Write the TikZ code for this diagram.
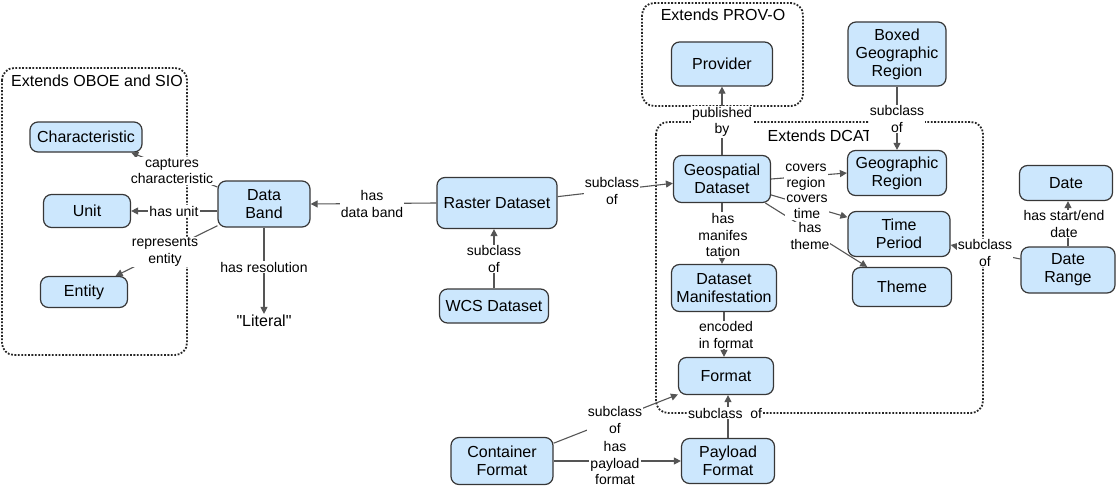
\documentclass[tikz,border=0pt]{standalone}
\usepackage{fontspec}
\setmainfont{Liberation Sans}
\newfontfamily\litfont{Liberation Sans}[Ligatures=TeXOff]
\usetikzlibrary{arrows.meta}
\definecolor{boxfill}{RGB}{204,231,253}
\definecolor{boxdraw}{RGB}{55,55,55}
\definecolor{edgecol}{RGB}{85,85,85}
\begin{document}
\begin{tikzpicture}[x=1pt,y=-1pt,
 cls/.style={draw=boxdraw, fill=boxfill, line width=1.2pt, rounded corners=8pt, align=center, font=\fontsize{16}{18}\selectfont, inner sep=0pt},
 lbl/.style={fill=white, inner sep=1pt, align=center, font=\fontsize{14}{16.5}\selectfont},
 rel/.style={draw=edgecol, line width=1.1pt, -{Triangle[length=7pt,width=7pt]}},
 frame/.style={draw=black!85, line width=1.8pt, dash pattern=on 1.8pt off 1.6pt, rounded corners=12pt},
 title/.style={font=\fontsize{16}{18}\selectfont, inner sep=1pt}]
\useasboundingbox (0,0) rectangle (1116,487);

% frames
\draw[frame] (2,68) rectangle (187,355);
\draw[frame] (642,3) rectangle (803,106);
\draw[frame] (656,122) rectangle (983,413);
\node[title] (t1) at (97,81) {Extends OBOE and SIO};
\node[title] (t2) at (723,15) {Extends PROV-O};
\node[title] (t3) at (820,136) {Extends DCAT};

% classes
\node[cls, minimum width=112pt, minimum height=30pt] (ch) at (86,137) {Characteristic};
\node[cls, minimum width=87pt, minimum height=33pt] (un) at (87,211) {Unit};
\node[cls, minimum width=87pt, minimum height=31pt] (en) at (84,292) {Entity};
\node[cls, minimum width=92pt, minimum height=46pt] (db) at (264,204) {Data\\Band};
\node[font=\litfont\fontsize{16}{18}\selectfont, inner sep=1pt] (lit) at (264,321) {"Literal"};
\node[cls, minimum width=120pt, minimum height=51pt] (ra) at (497,203) {Raster Dataset};
\node[cls, minimum width=109pt, minimum height=34pt] (wcs) at (494,306) {WCS Dataset};
\node[cls, minimum width=101pt, minimum height=44pt] (prov) at (722,64) {Provider};
\node[cls, minimum width=97pt, minimum height=47pt] (geo) at (722,179) {Geospatial\\Dataset};
\node[cls, minimum width=98pt, minimum height=64pt] (bgr) at (897,54) {Boxed\\Geographic\\Region};
\node[cls, minimum width=99pt, minimum height=45pt] (geor) at (897,173) {Geographic\\Region};
\node[cls, minimum width=102pt, minimum height=45pt] (tp) at (899,234) {Time\\Period};
\node[cls, minimum width=99pt, minimum height=39pt] (th) at (902,287) {Theme};
\node[cls, minimum width=105pt, minimum height=47pt] (dm) at (724,288) {Dataset\\Manifestation};
\node[cls, minimum width=95pt, minimum height=37pt] (fmt) at (726,376) {Format};
\node[cls, minimum width=93pt, minimum height=45pt] (pay) at (728,461) {Payload\\Format};
\node[cls, minimum width=102pt, minimum height=47pt] (cont) at (502,461) {Container\\Format};
\node[cls, minimum width=93pt, minimum height=35pt] (date) at (1066,183) {Date};
\node[cls, minimum width=94pt, minimum height=46pt] (dr) at (1068,270) {Date\\Range};

% relations
\draw[rel] (db.160) -- (ch.-19);
\draw[rel] (un -| db.west) -- (un.east);
\draw[rel] (db.205) -- (en.27);
\draw[rel] (db.south) -- (lit.north);
\draw[rel] (ra.west) -- (db.east);
\draw[rel] (ra.6) -- (geo.185);
\draw[rel] (wcs.north) -- (wcs.north |- ra.south);
\draw[rel] (geo.north) -- (prov.south);
\draw[rel] (bgr.south) -- (geor.north);
\draw[rel] (geo.east) -- (geor.west);
\draw[rel] (geo.-18) -- (tp.162);
\draw[rel] (geo.-29) -- (th.150);
\draw[rel] (geo.south) -- (geo.south |- dm.north);
\draw[rel] (dm.south) -- (dm.south |- fmt.north);
\draw[rel] (pay.north) -- (pay.north |- fmt.south);
\draw[rel] (cont.19) -- (fmt.201);
\draw[rel] (cont.east) -- (pay.west);
\draw[rel] (dr.north) -- (dr.north |- date.south);
\draw[rel] (dr.167) -- (tp.-12);

% labels
\node[lbl] (l1) at (172,171) {captures\\characteristic};
\node[lbl] (l2) at (174,211) {has unit};
\node[lbl] (l3) at (165,252) {represents\\entity};
\node[lbl] (l4) at (264,267) {has resolution};
\node[lbl] (l5) at (372,204) {has\\data band};
\node[lbl] (l6) at (612,191) {subclass\\of};
\node[lbl] (l7) at (494,259) {subclass\\of};
\node[lbl] (l8) at (722,122) {published\\by};
\node[lbl] (l9) at (897,119) {subclass\\of};
\node[lbl] (l10) at (806,177) {covers\\region};
\node[lbl] (l12) at (810,236) {has\\theme};
\node[lbl] (l11) at (807,207) {covers\\time};
\node[lbl] (l13) at (723,235) {has\\manifes\\tation};
\node[lbl] (l14) at (726,335) {encoded\\in format};
\node[lbl] (l15) at (725,413) {subclass\ \ of};
\node[lbl] (l16) at (615,420) {subclass\\of};
\node[lbl] (l17) at (615,463) {has\\payload\\format};
\node[lbl] (l18) at (1064,224) {has start/end\\date};
\node[lbl] (l19) at (985,253) {subclass\\of};
\end{tikzpicture}
\end{document}
